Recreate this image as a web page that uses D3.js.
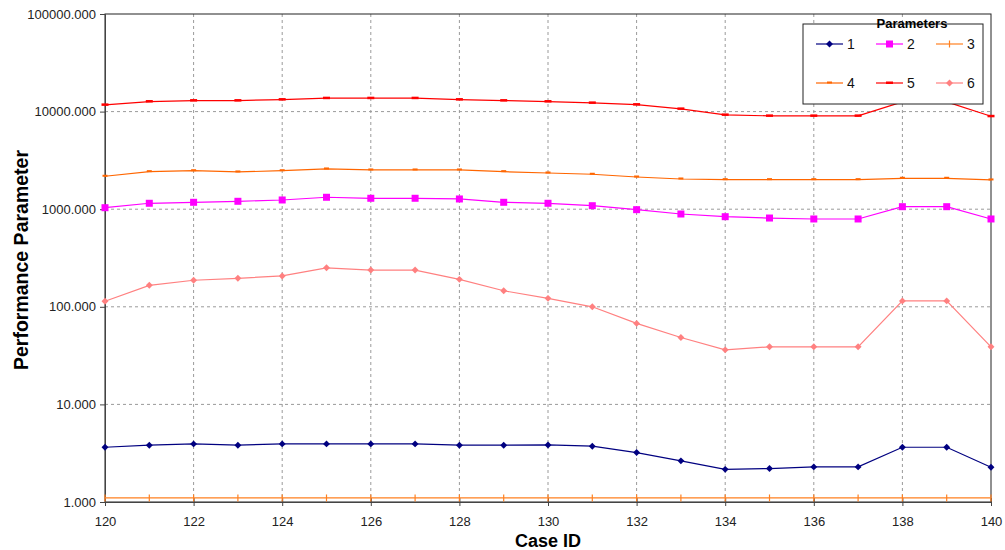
<!DOCTYPE html>
<html>
<head>
<meta charset="utf-8">
<script src="https://cdn.jsdelivr.net/npm/d3@7"></script>
<style>
  body { margin: 0; background: #fff; }
  svg { display: block; font-family: "Liberation Sans", Arial, sans-serif; }
</style>
</head>
<body>
<div id="chart"></div>
<script>
const caseIds = [120, 121, 122, 123, 124, 125, 126, 127, 128, 129, 130, 131, 132, 133, 134, 135, 136, 137, 138, 139, 140];
const seriesNames = ["1", "2", "3", "4", "5", "6"];
const param1 = [3.64, 3.82, 3.94, 3.82, 3.94, 3.94, 3.94, 3.94, 3.82, 3.82, 3.84, 3.73, 3.21, 2.64, 2.16, 2.2, 2.29, 2.29, 3.64, 3.64, 2.27];
const param2 = [1036, 1150, 1177, 1205, 1243, 1325, 1294, 1294, 1273, 1177, 1150, 1086, 989, 893, 838, 812, 794, 794, 1061, 1061, 794];
const param3 = [1.1, 1.1, 1.1, 1.1, 1.1, 1.1, 1.1, 1.1, 1.1, 1.1, 1.1, 1.1, 1.1, 1.1, 1.1, 1.1, 1.1, 1.1, 1.1, 1.1, 1.1];
const param4 = [2175, 2425, 2480, 2408, 2480, 2584, 2524, 2524, 2524, 2425, 2350, 2280, 2138, 2040, 2008, 2008, 2008, 2008, 2074, 2074, 1994];
const param5 = [11720, 12680, 12970, 12970, 13280, 13720, 13720, 13720, 13280, 12970, 12680, 12280, 11800, 10660, 9250, 9040, 9040, 9040, 12570, 12570, 8950];
const param6 = [114, 166, 187, 196, 207, 251, 238, 238, 191, 146, 122, 100, 67.6, 48.5, 36.2, 38.9, 38.9, 38.9, 115, 115, 38.9];
const yTicks = [1, 10, 100, 1000, 10000, 100000];
const xTicks = [120, 122, 124, 126, 128, 130, 132, 134, 136, 138, 140];
const gridX = [122, 124, 126, 128, 130, 132, 134, 136, 138];
const gridY = [10, 100, 1000, 10000];

const width = 1005, height = 550;
const plotLeft = 105, plotRight = 991, plotTop = 14, plotBottom = 502;

const colors = ["#000080", "#ff00ff", "#ff8020", "#ff6600", "#ff0000", "#ff8080"];
const markers = ["diamond", "square", "vtick", "hdash", "hdash2", "diamond"];
const allSeries = [param1, param2, param3, param4, param5, param6];

const svg = d3.select("#chart").append("svg")
  .attr("width", width)
  .attr("height", height);

svg.append("rect").attr("width", width).attr("height", height).attr("fill", "#fff");

const x = d3.scaleLinear().domain([120, 140]).range([plotLeft, plotRight]);
const y = d3.scaleLog().domain([1, 100000]).range([plotBottom, plotTop]);

// grid
svg.append("g").selectAll("line").data(gridY).join("line")
  .attr("x1", plotLeft).attr("x2", plotRight)
  .attr("y1", d => y(d)).attr("y2", d => y(d))
  .attr("stroke", "#9a9a9a").attr("stroke-dasharray", "3,3");
svg.append("g").selectAll("line").data(gridX).join("line")
  .attr("y1", plotTop).attr("y2", plotBottom)
  .attr("x1", d => x(d)).attr("x2", d => x(d))
  .attr("stroke", "#9a9a9a").attr("stroke-dasharray", "3,3");

// frame
svg.append("rect")
  .attr("x", plotLeft).attr("y", plotTop)
  .attr("width", plotRight - plotLeft).attr("height", plotBottom - plotTop)
  .attr("fill", "none").attr("stroke", "#222").attr("stroke-width", 1);

// axes
const yAxis = d3.axisLeft(y).tickValues(yTicks).tickFormat(d3.format(".3f")).tickSize(5).tickPadding(4);
const gy = svg.append("g").attr("transform", `translate(${plotLeft},0)`).call(yAxis);
const xAxis = d3.axisBottom(x).tickValues(xTicks).tickFormat(d3.format("d")).tickSize(4).tickPadding(11);
const gx = svg.append("g").attr("transform", `translate(0,${plotBottom})`).call(xAxis);
[gx, gy].forEach(g => {
  g.select(".domain").attr("stroke", "#444");
  g.selectAll(".tick line").attr("stroke", "#444");
  g.selectAll("text").attr("fill", "#222").style("font-size", "13px")
    .style("font-family", "'Liberation Sans', Arial, sans-serif");
});
gx.selectAll(".tick line").attr("y1", -4);

// axis titles
svg.append("text")
  .attr("transform", `translate(21,${(plotTop + plotBottom) / 2 + 2}) rotate(-90)`)
  .attr("dy", "0.35em")
  .attr("text-anchor", "middle")
  .style("font-size", "19.5px").style("font-weight", "bold")
  .text("Performance Parameter");
svg.append("text")
  .attr("x", 548).attr("y", 547)
  .attr("text-anchor", "middle")
  .style("font-size", "18px").style("font-weight", "bold")
  .text("Case ID");

function drawMarker(g, type, color) {
  if (type === "diamond") {
    g.append("path").attr("d", d3.symbol(d3.symbolSquare, 24)()).attr("transform", "rotate(45)").attr("fill", color);
  } else if (type === "square") {
    g.append("rect").attr("x", -3.5).attr("y", -3.5).attr("width", 7).attr("height", 7).attr("fill", color);
  } else if (type === "vtick") {
    g.append("line").attr("y1", -3.5).attr("y2", 3.5).attr("stroke", color).attr("stroke-width", 1.2);
  } else if (type === "hdash") {
    g.append("rect").attr("x", -2.5).attr("y", -1.5).attr("width", 5).attr("height", 2).attr("fill", color);
  } else if (type === "hdash2") {
    g.append("rect").attr("x", -3.5).attr("y", -1.5).attr("width", 7).attr("height", 2.5).attr("fill", color);
  }
}

const line = d3.line().x(d => x(d[0])).y(d => y(d[1]));

allSeries.forEach((vals, i) => {
  const pts = caseIds.map((c, j) => [c, vals[j]]);
  const g = svg.append("g");
  g.append("path").datum(pts)
    .attr("d", line)
    .attr("fill", "none")
    .attr("stroke", colors[i])
    .attr("stroke-width", 1.2);
  g.selectAll("g.m").data(pts).join("g")
    .attr("class", "m")
    .attr("transform", d => `translate(${x(d[0])},${y(d[1])})`)
    .each(function () { drawMarker(d3.select(this), markers[i], colors[i]); });
});

// legend
const lg = svg.append("g");
lg.append("rect").attr("x", 803).attr("y", 24).attr("width", 180).attr("height", 80)
  .attr("fill", "#fff").attr("stroke", "#222");
lg.append("text").attr("x", 912).attr("y", 28)
  .attr("text-anchor", "middle").style("font-size", "13px").style("font-weight", "bold")
  .text("Parameters");
seriesNames.forEach((name, i) => {
  const col = i % 3, row = Math.floor(i / 3);
  const lx = 816 + col * 60, ly = 44 + row * 39;
  const item = lg.append("g").attr("transform", `translate(${lx},${ly})`);
  item.append("line").attr("x1", 0).attr("x2", 27).attr("stroke", colors[i]).attr("stroke-width", 1.2);
  const m = item.append("g").attr("transform", "translate(13.5,0)");
  drawMarker(m, markers[i], colors[i]);
  item.append("text").attr("x", 31).attr("y", 5).style("font-size", "14px").attr("fill", "#111").text(name);
});
</script>
</body>
</html>
